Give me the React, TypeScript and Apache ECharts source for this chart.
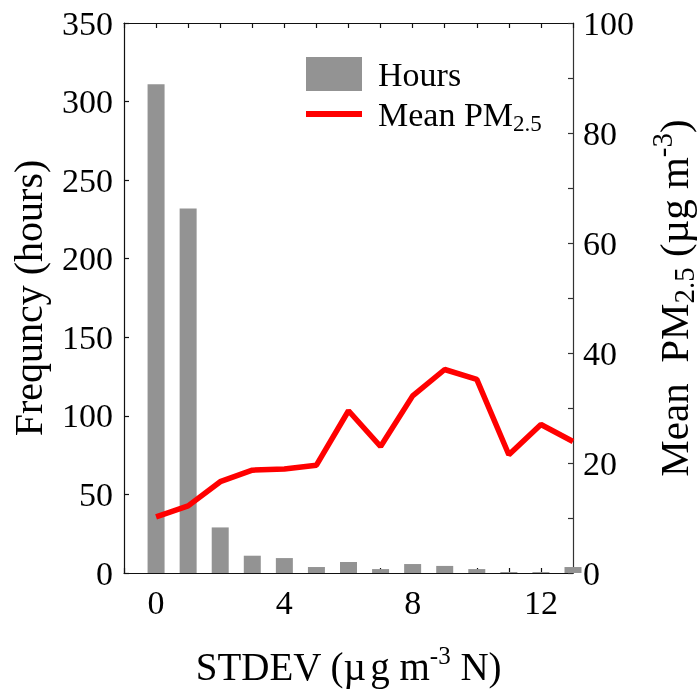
import React, { useEffect, useRef } from "react";
import * as echarts from "echarts";

const stdevBins = [0, 1, 2, 3, 4, 5, 6, 7, 8, 9, 10, 11, 12, 13];
const hours = [311, 232, 29, 11, 9.5, 3.8, 7, 2.5, 5.7, 4.5, 2.5, 0.6, 0.6, 3.8];
const meanPM = [10.2, 12.2, 16.6, 18.7, 18.9, 19.6, 29.5, 23.0, 32.2, 37.0, 35.2, 21.5, 27.0, 23.9];
const xTickLabels = [0, 4, 8, 12];
const rightTickLabels = [0, 20, 40, 60, 80, 100];

export default function App() {
  const ref = useRef<HTMLDivElement>(null);
  useEffect(() => {
    document.documentElement.style.overflow = "hidden";
    document.body.style.overflow = "hidden";
    document.body.style.margin = "0";
    const chart = echarts.init(ref.current!, null, { renderer: "svg" });
    const font = "Liberation Serif";
    const lineCol = "#111";
    const axisLine = { show: true, onZero: false, lineStyle: { color: lineCol, width: 1.2 } };
    const tick = { show: true, inside: true, length: 5, lineStyle: { color: lineCol, width: 1.2 } };
    const tickLabel = { fontSize: 34, fontFamily: font, color: "#000" };
    const xRich = {
      a: { fontSize: 39, fontFamily: font, color: "#000" },
      g: { fontSize: 39, fontFamily: font, color: "#000", padding: [0, 0, 0, 4] },
      sup: { fontSize: 25, fontFamily: font, color: "#000", padding: [0, 0, 22, 0] },
    };
    const rRich = {
      a: { fontSize: 41, fontFamily: font, color: "#000" },
      sub: { fontSize: 29, fontFamily: font, color: "#000", padding: [20, 0, 0, 0] },
      sup: { fontSize: 29, fontFamily: font, color: "#000", padding: [0, 0, 24, 0] },
    };
    chart.setOption({
      animation: false,
      textStyle: { fontFamily: font },
      grid: {
        left: 124,
        right: 127,
        top: 23,
        bottom: 117,
        containLabel: false,
        outerBoundsMode: "none",
      },
      legend: [
        {
          data: [{ name: "Hours", icon: "rect" }],
          left: 306,
          top: 57,
          padding: 0,
          itemWidth: 56,
          itemHeight: 34,
          selectedMode: false,
          textStyle: { fontSize: 34, fontFamily: font, color: "#000", padding: [0, 0, 0, 11] },
        },
        {
          data: [{ name: "Mean PM2.5", icon: "rect" }],
          left: 306,
          top: 97,
          padding: 0,
          itemWidth: 56,
          itemHeight: 6,
          selectedMode: false,
          formatter: () => "{a|Mean PM}{sub|2.5}",
          textStyle: {
            fontSize: 34,
            fontFamily: font,
            color: "#000",
            padding: [0, 0, 0, 11],
            rich: {
              a: { fontSize: 34, fontFamily: font, color: "#000" },
              sub: { fontSize: 23, fontFamily: font, color: "#000", padding: [18, 0, 0, 0] },
            },
          },
        },
      ],
      xAxis: [
        {
          type: "value",
          min: -1,
          max: 13,
          interval: 1,
          position: "bottom",
          axisLine,
          axisTick: tick,
          splitLine: { show: false },
          axisLabel: {
            ...tickLabel,
            margin: 12,
            formatter: (v: number) => (xTickLabels.includes(v) ? String(v) : ""),
          },
          name: "{a|STDEV (µ}{g|g m}{sup|-3}{a| N)}",
          nameLocation: "middle",
          nameGap: 70,
          nameTextStyle: { fontSize: 39, fontFamily: font, color: "#000", rich: xRich },
        },
        {
          type: "value",
          min: -1,
          max: 13,
          interval: 1,
          position: "top",
          axisLine,
          axisTick: tick,
          splitLine: { show: false },
          axisLabel: { show: false },
        },
      ],
      yAxis: [
        {
          type: "value",
          min: 0,
          max: 350,
          interval: 50,
          position: "left",
          axisLine,
          axisTick: tick,
          splitLine: { show: false },
          axisLabel: { ...tickLabel, margin: 11 },
          name: "Frequncy (hours)",
          nameLocation: "middle",
          nameRotate: 90,
          nameGap: 76,
          nameTextStyle: { fontSize: 40, fontFamily: font, color: "#000" },
        },
        {
          type: "value",
          min: 0,
          max: 100,
          interval: 10,
          position: "right",
          axisLine: { show: true, onZero: false, lineStyle: { color: "#333", width: 1.2 } },
          axisTick: { ...tick, lineStyle: { color: "#333", width: 1.2 } },
          splitLine: { show: false },
          axisLabel: {
            ...tickLabel,
            margin: 10,
            formatter: (v: number) => (rightTickLabels.includes(v) ? String(v) : ""),
          },
          name: "{a|Mean  PM}{sub|2.5}{a| (µg m}{sup|-3}{a|)}",
          nameLocation: "middle",
          nameRotate: 90,
          nameGap: 74,
          nameTextStyle: { fontSize: 41, fontFamily: font, color: "#000", rich: rRich },
        },
      ],
      series: [
        {
          name: "Hours",
          type: "bar",
          xAxisIndex: 0,
          yAxisIndex: 0,
          barWidth: 17,
          clip: true,
          itemStyle: { color: "#939393" },
          data: stdevBins.map((x, i) => [x, hours[i]]),
          z: 2,
        },
        {
          name: "Mean PM2.5",
          type: "line",
          xAxisIndex: 0,
          yAxisIndex: 1,
          symbol: "none",
          clip: true,
          lineStyle: { color: "#ff0000", width: 5.5 },
          itemStyle: { color: "#ff0000" },
          data: stdevBins.map((x, i) => [x, meanPM[i]]),
          z: 3,
        },
      ],
    });
    return () => chart.dispose();
  }, []);
  return (
    <div
      ref={ref}
      style={{ position: "fixed", left: 0, top: 0, width: 700, height: 690, overflow: "hidden" }}
    />
  );
}
